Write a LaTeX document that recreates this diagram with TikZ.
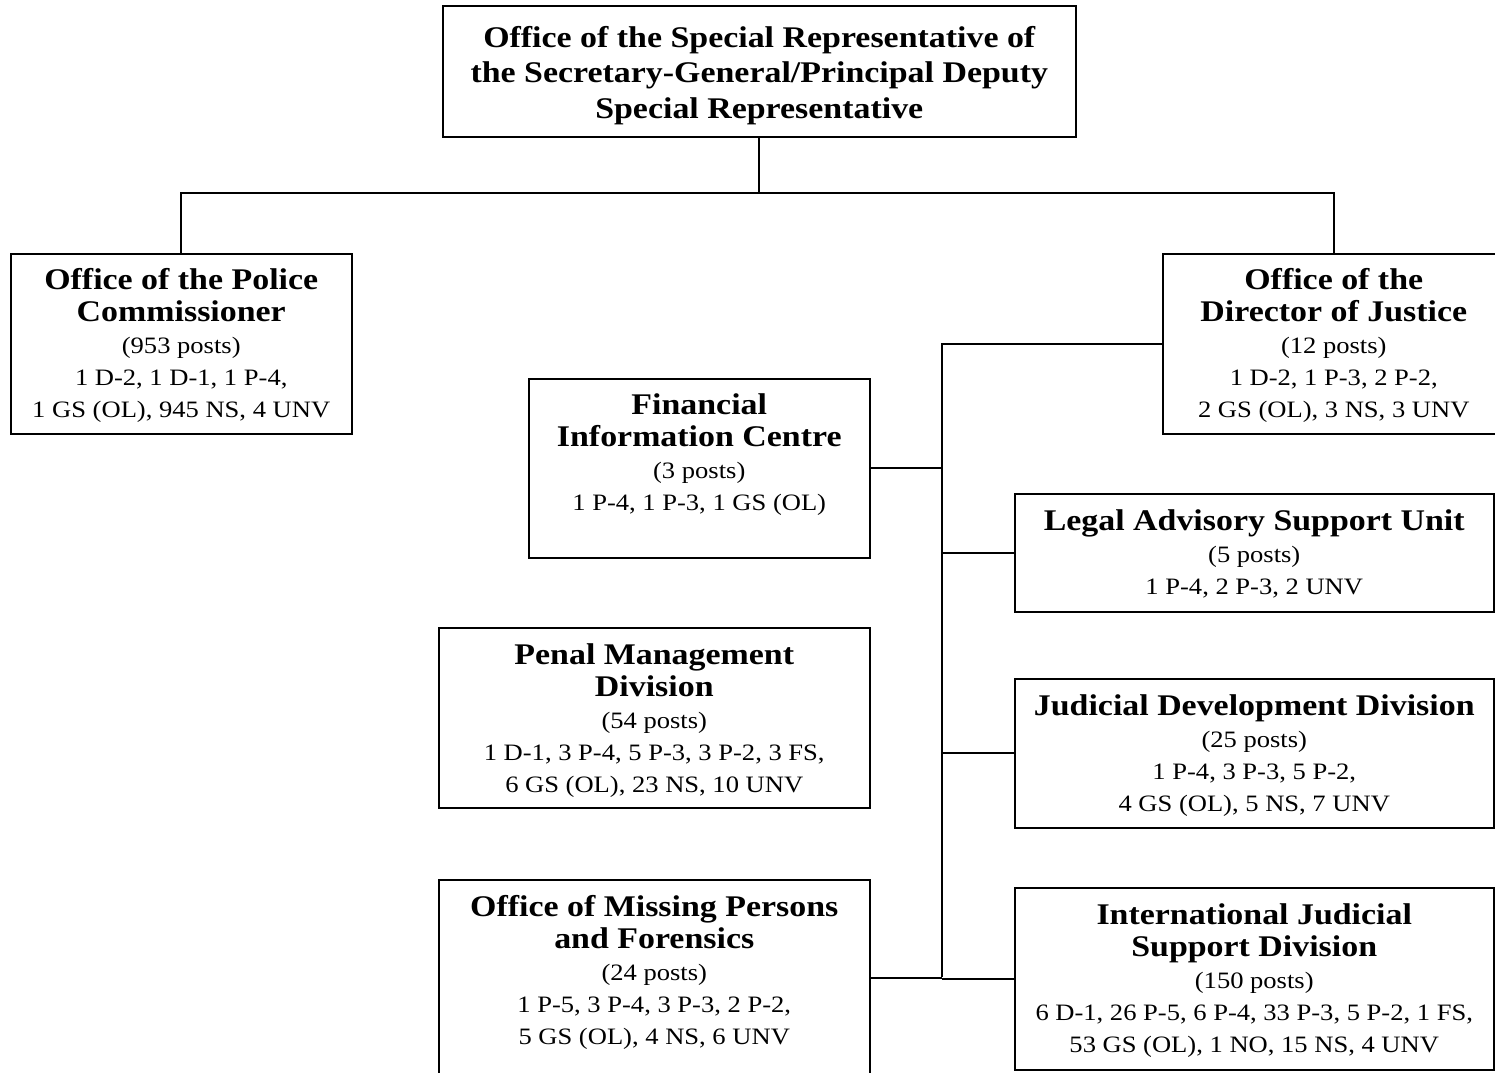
\documentclass[tikz,border=0pt]{standalone}
\usepackage{fontspec}
\setmainfont[FakeStretch=1.13]{Liberation Serif}
\newcommand{\ttl}[1]{{\fontsize{30}{32}\selectfont\bfseries #1}}
\newcommand{\firstl}{\rule{0pt}{25pt}}
\tikzset{
  orgbox/.style={draw, line width=1.5pt, rectangle, inner sep=0pt, anchor=north west},
  orgtxt/.style={anchor=north, inner sep=0pt, align=center, font=\fontsize{23.5}{32}\selectfont},
  conn/.style={line width=2.2pt}
}
\begin{document}
\begin{tikzpicture}[x=1pt,y=-1pt]
\useasboundingbox (0,0) rectangle (1495,1072);
\fill[white] (0,0) rectangle (1495,1072);

% boxes
\node[orgbox, minimum width=633pt, minimum height=131pt] (top) at (442,5) {};
\node[orgbox, minimum width=341pt, minimum height=180pt] (pol) at (10,253) {};
\node[orgbox, minimum width=342pt, minimum height=180pt] (dir) at (1162,253) {};
\node[orgbox, minimum width=341pt, minimum height=179pt] (fin) at (528,378) {};
\node[orgbox, minimum width=479pt, minimum height=118pt] (leg) at (1014,493) {};
\node[orgbox, minimum width=431pt, minimum height=180pt] (pen) at (438,627) {};
\node[orgbox, minimum width=479pt, minimum height=149pt] (jud) at (1014,678) {};
\node[orgbox, minimum width=431pt, minimum height=196pt] (mis) at (438,879) {};
\node[orgbox, minimum width=479pt, minimum height=182pt] (int) at (1014,887) {};

% texts
\node[orgtxt, font=\fontsize{30}{35.5}\selectfont\bfseries] (topt) at ([yshift=-17pt]top.north) {\firstl Office of the Special Representative of\\the Secretary-General/Principal Deputy\\Special Representative};
\node[orgtxt] (polt) at ([yshift=-11pt]pol.north) {\firstl\ttl{Office of the Police}\\\ttl{Commissioner}\\(953 posts)\\1 D-2, 1 D-1, 1 P-4,\\1 GS (OL), 945 NS, 4 UNV};
\node[orgtxt] (dirt) at ([yshift=-11pt]dir.north) {\firstl\ttl{Office of the}\\\ttl{Director of Justice}\\(12 posts)\\1 D-2, 1 P-3, 2 P-2,\\2 GS (OL), 3 NS, 3 UNV};
\node[orgtxt] (fint) at ([yshift=-11pt]fin.north) {\firstl\ttl{Financial}\\\ttl{Information Centre}\\(3 posts)\\1 P-4, 1 P-3, 1 GS (OL)};
\node[orgtxt] (legt) at ([yshift=-12pt]leg.north) {\firstl\ttl{Legal Advisory Support Unit}\\(5 posts)\\1 P-4, 2 P-3, 2 UNV};
\node[orgtxt] (pent) at ([yshift=-12pt]pen.north) {\firstl\ttl{Penal Management}\\\ttl{Division}\\(54 posts)\\1 D-1, 3 P-4, 5 P-3, 3 P-2, 3 FS,\\6 GS (OL), 23 NS, 10 UNV};
\node[orgtxt] (judt) at ([yshift=-12pt]jud.north) {\firstl\ttl{Judicial Development Division}\\(25 posts)\\1 P-4, 3 P-3, 5 P-2,\\4 GS (OL), 5 NS, 7 UNV};
\node[orgtxt] (mist) at ([yshift=-12pt]mis.north) {\firstl\ttl{Office of Missing Persons}\\\ttl{and Forensics}\\(24 posts)\\1 P-5, 3 P-4, 3 P-3, 2 P-2,\\5 GS (OL), 4 NS, 6 UNV};
\node[orgtxt] (intt) at ([yshift=-12pt]int.north) {\firstl\ttl{International Judicial}\\\ttl{Support Division}\\(150 posts)\\6 D-1, 26 P-5, 6 P-4, 33 P-3, 5 P-2, 1 FS,\\53 GS (OL), 1 NO, 15 NS, 4 UNV};

% connectors
\coordinate (bus) at (759,193);
\coordinate (spine) at (942,977);
\draw[conn] (top.south) -- (top.south |- bus);
\draw[conn] (pol.north) |- (bus) -| (dir.north);
\draw[conn] (dir.west) -| (spine);
\draw[conn] (fin.east) -- (fin.east -| spine);
\draw[conn] (leg.west) -- (leg.west -| spine);
\draw[conn] (jud.west) -- (jud.west -| spine);
\draw[conn] (mis.east) -- (mis.east -| spine);
\draw[conn] (int.west) -- (int.west -| spine);
\end{tikzpicture}
\end{document}
